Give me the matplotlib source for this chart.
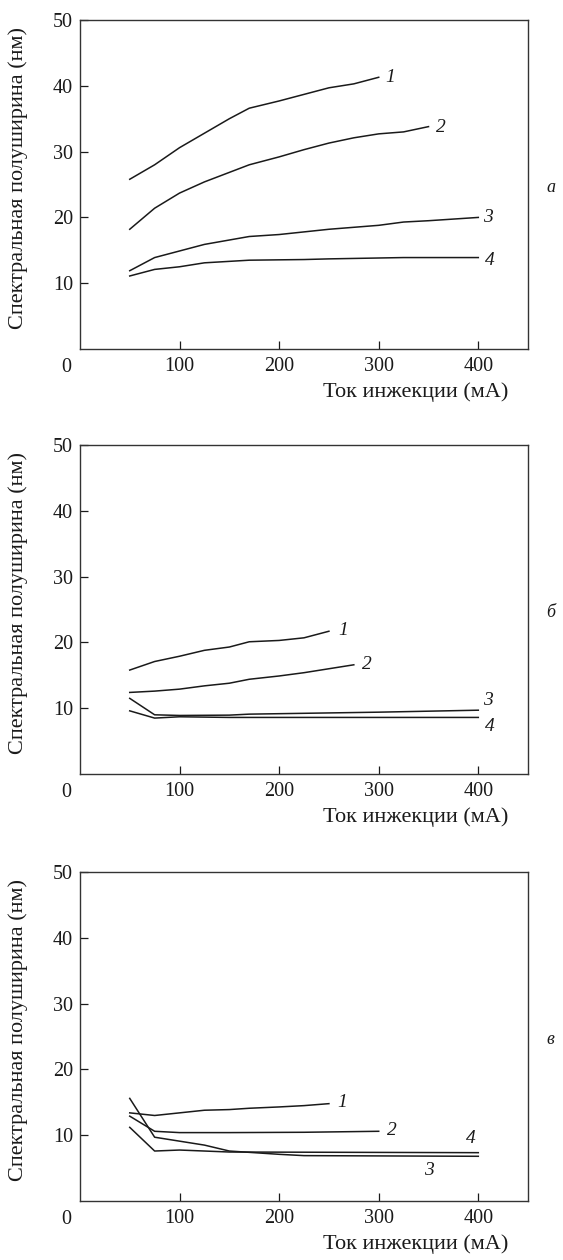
import matplotlib
matplotlib.use('Agg')
import matplotlib.pyplot as plt

plt.rcParams['font.family'] = ['Liberation Serif', 'DejaVu Serif']

# панель а
x_a1 = [50, 75, 100, 125, 150, 170, 200, 225, 250, 275, 300]
y_a1 = [25.8, 28.0, 30.6, 32.8, 35.0, 36.6, 37.7, 38.7, 39.7, 40.3, 41.3]
x_a2 = [50, 75, 100, 125, 170, 200, 225, 250, 275, 300, 325, 350]
y_a2 = [18.2, 21.4, 23.7, 25.4, 28.0, 29.2, 30.3, 31.3, 32.1, 32.7, 33.0, 33.8]
x_a3 = [50, 75, 100, 125, 170, 200, 250, 300, 325, 350, 400]
y_a3 = [11.9, 13.9, 14.9, 15.9, 17.1, 17.4, 18.2, 18.8, 19.3, 19.5, 20.0]
x_a4 = [50, 75, 100, 125, 170, 225, 250, 325, 400]
y_a4 = [11.1, 12.1, 12.5, 13.1, 13.5, 13.6, 13.7, 13.9, 13.9]

# панель б
x_b1 = [50, 75, 100, 125, 150, 170, 200, 225, 250]
y_b1 = [15.8, 17.1, 17.9, 18.8, 19.3, 20.1, 20.3, 20.7, 21.7]
x_b2 = [50, 75, 100, 125, 150, 170, 200, 225, 250, 275]
y_b2 = [12.4, 12.6, 12.9, 13.4, 13.8, 14.4, 14.9, 15.4, 16.0, 16.6]
x_b3 = [50, 75, 100, 150, 170, 300, 400]
y_b3 = [11.5, 9.0, 8.9, 8.95, 9.1, 9.4, 9.7]
x_b4 = [50, 75, 100, 150, 400]
y_b4 = [9.6, 8.5, 8.7, 8.6, 8.6]

# панель в
x_c1 = [50, 75, 100, 125, 150, 170, 200, 225, 250]
y_c1 = [13.4, 13.0, 13.4, 13.8, 13.9, 14.1, 14.3, 14.5, 14.8]
x_c2 = [50, 75, 100, 150, 225, 300]
y_c2 = [12.9, 10.6, 10.4, 10.4, 10.45, 10.6]
x_c3 = [50, 75, 100, 125, 150, 200, 225, 400]
y_c3 = [15.6, 9.7, 9.1, 8.5, 7.6, 7.1, 6.9, 6.8]
x_c4 = [50, 75, 100, 150, 400]
y_c4 = [11.2, 7.6, 7.75, 7.45, 7.35]

panel_names = ['а', 'б', 'в']
curve_names = ['1', '2', '3', '4']
xticks = [100, 200, 300, 400]
yticks = [10, 20, 30, 40, 50]

panels = [
    [(x_a1, y_a1), (x_a2, y_a2), (x_a3, y_a3), (x_a4, y_a4)],
    [(x_b1, y_b1), (x_b2, y_b2), (x_b3, y_b3), (x_b4, y_b4)],
    [(x_c1, y_c1), (x_c2, y_c2), (x_c3, y_c3), (x_c4, y_c4)],
]

# где подписаны номера кривых
label_pos = [
    [(312, 41.2), (362, 33.7), (410, 20.0), (412, 13.4)],
    [(264, 21.8), (288, 16.7), (410, 11.1), (412, 7.2)],
    [(263, 15.0), (313, 10.7), (350, 4.7), (392, 9.5)],
]

fig = plt.figure(figsize=(5.63, 12.6), dpi=100)
bottoms = [0.7230, 0.3857, 0.0468]
ink = '#1a1a1a'

for i, curves in enumerate(panels):
    ax = fig.add_axes([0.142, bottoms[i], 0.796, 0.2611])
    for (xs, ys) in curves:
        ax.plot(xs, ys, color=ink, linewidth=1.1)
    for name, (lx, ly) in zip(curve_names, label_pos[i]):
        ax.text(lx, ly, name, fontsize=14, style='italic', ha='center', va='center', color=ink)

    ax.set_xlim(0, 450)
    ax.set_ylim(0, 50)
    ax.set_xticks(xticks)
    ax.set_yticks(yticks)
    ax.tick_params(direction='in', length=5.5, width=0.9, labelsize=14.5, colors=ink)
    ax.tick_params(axis='x', pad=6)
    ax.tick_params(axis='y', pad=5)
    for s in ax.spines.values():
        s.set_linewidth(1.0)
        s.set_color('#333333')

    ax.annotate('0', xy=(0, 0), xycoords='axes fraction', xytext=(-10, -13),
                textcoords='offset points', ha='center', va='center', fontsize=14.5, color=ink)
    ax.text(0.75, -0.131, 'Ток инжекции (мА)', transform=ax.transAxes,
            ha='center', va='center', fontsize=16, color=ink)
    ax.text(-0.138, 0.52, 'Спектральная полуширина (нм)', transform=ax.transAxes,
            rotation=90, ha='center', va='center', fontsize=16, color=ink)
    ax.text(1.05, 0.49, panel_names[i], transform=ax.transAxes, style='italic',
            ha='center', va='center', fontsize=13, color=ink)

fig.savefig('out.png', dpi=100)
